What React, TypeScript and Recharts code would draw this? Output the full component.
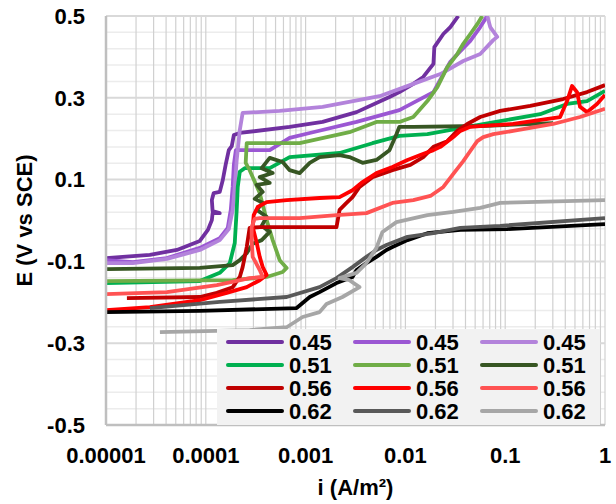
import { CartesianGrid, Label, Line, LineChart, XAxis, YAxis } from 'recharts';

// polarization curves, i in A/m2, E in V vs SCE
const p45a = [
  [1e-5, -0.092], [2.75e-5, -0.084], [5.13e-5, -0.072], [8.71e-5, -0.05], [1.05e-4, -0.023],
  [1.15e-4, 0.001], [1.17e-4, 0.018], [1.38e-4, 0.018], [1.17e-4, 0.023], [1.15e-4, 0.05],
  [1.2e-4, 0.067], [1.38e-4, 0.07], [1.48e-4, 0.099], [1.58e-4, 0.136], [1.7e-4, 0.172],
  [1.82e-4, 0.182], [1.91e-4, 0.209], [2.19e-4, 0.214], [6.92e-4, 0.229], [1.48e-3, 0.241],
  [3.24e-3, 0.265], [6.92e-3, 0.302], [8.71e-3, 0.314], [1.2e-2, 0.334], [1.51e-2, 0.351],
  [1.91e-2, 0.383], [1.95e-2, 0.424], [2.4e-2, 0.456], [2.82e-2, 0.473], [3.39e-2, 0.5],
];
const p45b = [
  [1e-5, -0.097], [1.86e-5, -0.102], [4.07e-5, -0.092], [8.71e-5, -0.067], [1.38e-4, -0.043],
  [1.66e-4, -0.018], [1.78e-4, 0.026], [1.86e-4, 0.082], [1.91e-4, 0.136], [2.0e-4, 0.172],
  [3.09e-4, 0.172], [4.37e-4, 0.172], [6.92e-4, 0.202], [1.1e-3, 0.214], [3.24e-3, 0.241],
  [8.71e-3, 0.27], [1.91e-2, 0.314], [2.4e-2, 0.358], [2.82e-2, 0.388], [3.55e-2, 0.414],
  [4.47e-2, 0.439], [5.62e-2, 0.473], [6.61e-2, 0.5],
];
const p45c = [
  [1e-5, -0.104], [1.86e-5, -0.104], [4.07e-5, -0.094], [8.71e-5, -0.072], [1.38e-4, -0.048],
  [1.7e-4, -0.021], [1.86e-4, 0.026], [1.95e-4, 0.082], [2.04e-4, 0.148], [2.19e-4, 0.221],
  [2.34e-4, 0.263], [5.5e-4, 0.268], [1.48e-3, 0.278], [5.5e-3, 0.304], [1.2e-2, 0.334],
  [2.24e-2, 0.358], [3.8e-2, 0.39], [5.62e-2, 0.407], [7.59e-2, 0.441], [8.32e-2, 0.449],
  [7.08e-2, 0.473], [6.61e-2, 0.5],
];
const p51a = [
  [1e-5, -0.153], [8.71e-5, -0.148], [1.38e-4, -0.128], [1.74e-4, -0.104], [1.95e-4, -0.055],
  [2.04e-4, 0.026], [2.09e-4, 0.082], [2.19e-4, 0.119], [2.45e-4, 0.128], [4.37e-4, 0.128],
  [6.92e-4, 0.155], [2.19e-3, 0.165], [4.68e-3, 0.189], [8.71e-3, 0.207], [1.66e-2, 0.211],
  [3.55e-2, 0.226], [8.91e-2, 0.243], [0.224, 0.26], [0.417, 0.285], [0.661, 0.292], [1, 0.317],
];
const p51b = [
  [1e-5, -0.148], [1.86e-4, -0.146], [4.07e-4, -0.138], [5.89e-4, -0.126], [6.46e-4, -0.116],
  [5.5e-4, -0.097], [4.68e-4, -0.048], [4.07e-4, 0.001], [3.47e-4, 0.067], [2.75e-4, 0.123],
  [2.51e-4, 0.141], [2.57e-4, 0.189], [8.71e-4, 0.189], [2.75e-3, 0.216], [5.13e-3, 0.241],
  [8.71e-3, 0.241], [1.2e-2, 0.253], [1.66e-2, 0.292], [2.09e-2, 0.326], [2.63e-2, 0.375],
  [3.31e-2, 0.407], [3.8e-2, 0.432], [4.47e-2, 0.456], [5.25e-2, 0.48], [5.89e-2, 0.5],
];
const p51c = [
  [1e-5, -0.119], [8.71e-5, -0.116], [1.86e-4, -0.109], [2.19e-4, -0.097], [2.57e-4, -0.08],
  [2.95e-4, -0.057], [3.63e-4, -0.048], [4.37e-4, -0.028], [3.63e-4, -0.013], [4.07e-4, 0.009],
  [3.24e-4, 0.026], [3.72e-4, 0.043], [3.09e-4, 0.053], [3.72e-4, 0.07], [3.24e-4, 0.087],
  [4.37e-4, 0.092], [3.47e-4, 0.106], [4.68e-4, 0.116], [3.63e-4, 0.128], [4.37e-4, 0.153],
  [5.89e-4, 0.143], [6.92e-4, 0.123], [8.71e-4, 0.116], [1.1e-3, 0.141], [1.38e-3, 0.155],
  [2.19e-3, 0.16], [2.75e-3, 0.155], [3.72e-3, 0.141], [5.13e-3, 0.148], [6.92e-3, 0.172],
  [8.13e-3, 0.211], [8.71e-3, 0.229], [1.2e-2, 0.229], [5.62e-2, 0.231], [0.302, 0.238],
];
const p56a = [
  [1.62e-5, -0.19], [8.71e-5, -0.187], [1.29e-4, -0.177], [1.86e-4, -0.163], [2.19e-4, -0.138],
  [2.34e-4, -0.114], [2.57e-4, -0.065], [2.75e-4, -0.018], [3.47e-4, -0.016], [8.71e-4, -0.016],
  [2.04e-3, -0.016], [2.19e-3, 0.026], [2.57e-3, 0.043], [2.95e-3, 0.057], [3.47e-3, 0.082],
  [4.68e-3, 0.106], [7.41e-3, 0.123], [1.12e-2, 0.136], [1.51e-2, 0.155], [1.91e-2, 0.18],
  [2.63e-2, 0.194], [3.31e-2, 0.219], [4.17e-2, 0.236], [5.62e-2, 0.253], [8.91e-2, 0.268],
  [0.178, 0.28], [0.38, 0.297], [0.661, 0.314], [1, 0.331],
];
const p56b = [
  [1e-5, -0.219], [2.75e-5, -0.212], [8.71e-5, -0.195], [1.62e-4, -0.177], [2.57e-4, -0.163],
  [3.47e-4, -0.146], [4.07e-4, -0.133], [3.72e-4, -0.114], [3.47e-4, -0.089], [3.24e-4, -0.055],
  [2.95e-4, -0.016], [3.02e-4, 0.013], [3.31e-4, 0.033], [4.07e-4, 0.045], [6.46e-4, 0.05],
  [1.38e-3, 0.055], [2.19e-3, 0.057], [2.95e-3, 0.074], [3.72e-3, 0.094], [5.13e-3, 0.116],
  [7.41e-3, 0.131], [1.05e-2, 0.148], [1.41e-2, 0.16], [1.91e-2, 0.172], [2.24e-2, 0.18],
  [3.02e-2, 0.204], [3.55e-2, 0.219], [4.47e-2, 0.229], [5.62e-2, 0.231], [0.12, 0.236],
  [0.355, 0.253], [0.417, 0.292], [0.468, 0.329], [0.525, 0.314], [0.562, 0.278],
  [0.661, 0.265], [0.832, 0.285], [1, 0.307],
];
const p56c = [
  [1e-5, -0.18], [4.07e-5, -0.175], [1.29e-4, -0.158], [2.75e-4, -0.141], [3.72e-4, -0.138],
  [3.47e-4, -0.121], [2.95e-4, -0.089], [2.88e-4, -0.048], [2.88e-4, -0.016], [3.09e-4, 0.004],
  [3.47e-4, 0.006], [8.71e-4, 0.006], [2.04e-3, 0.013], [4.07e-3, 0.018], [7.41e-3, 0.043],
  [1.2e-2, 0.05], [1.78e-2, 0.06], [2.4e-2, 0.082], [3.02e-2, 0.114], [3.8e-2, 0.145],
  [4.47e-2, 0.17], [5.25e-2, 0.194], [6.03e-2, 0.204], [7.59e-2, 0.211], [0.12, 0.219],
  [0.302, 0.236], [0.562, 0.253], [1, 0.273],
];
const p62a = [
  [1e-5, -0.224], [8.71e-5, -0.221], [8.13e-4, -0.214], [1.1e-3, -0.187], [1.38e-3, -0.175],
  [2.04e-3, -0.153], [2.95e-3, -0.138], [3.24e-3, -0.121], [4.07e-3, -0.104], [5.13e-3, -0.089],
  [6.46e-3, -0.072], [7.41e-3, -0.065], [1.05e-2, -0.048], [1.66e-2, -0.031], [3.55e-2, -0.023],
  [0.105, -0.021], [1, -0.009],
];
const p62b = [
  [2.75e-5, -0.214], [1.38e-4, -0.199], [6.46e-4, -0.187], [1.38e-3, -0.163], [2.04e-3, -0.141],
  [2.95e-3, -0.114], [4.07e-3, -0.089], [5.13e-3, -0.072], [6.46e-3, -0.06], [1.05e-2, -0.04],
  [1.91e-2, -0.031], [3.55e-2, -0.018], [8.91e-2, -0.013], [1, 0.006],
];
const p62c = [
  [3.47e-5, -0.273], [2.75e-4, -0.268], [6.46e-4, -0.261], [9.33e-4, -0.236], [1.38e-3, -0.224],
  [1.62e-3, -0.204], [2.34e-3, -0.187], [3.47e-3, -0.163], [2.75e-3, -0.146], [2.19e-3, -0.141],
  [3.24e-3, -0.128], [4.07e-3, -0.104], [5.13e-3, -0.067], [5.89e-3, -0.028], [8.13e-3, -0.004],
  [1.66e-2, 0.013], [3.02e-2, 0.021], [5.62e-2, 0.031], [8.91e-2, 0.043], [1, 0.05],
];

const names = ['0.45', '0.45', '0.45', '0.51', '0.51', '0.51', '0.56', '0.56', '0.56', '0.62', '0.62', '0.62'];
const colors = [
  '#7030A0', '#9B57D3', '#B383DB',
  '#00B050', '#70AD47', '#375623',
  '#C00000', '#FF0000', '#FF5353',
  '#000000', '#595959', '#A6A6A6',
];
const curves = [p45a, p45b, p45c, p51a, p51b, p51c, p56a, p56b, p56c, p62a, p62b, p62c];

const xTicks = [1e-5, 1e-4, 1e-3, 1e-2, 1e-1, 1];
const xTickLabels = ['0.00001', '0.0001', '0.001', '0.01', '0.1', '1'];
const yTicks = [-0.5, -0.3, -0.1, 0.1, 0.3, 0.5];
const yMinor = [-0.46, -0.42, -0.38, -0.34, -0.26, -0.22, -0.18, -0.14, -0.06, -0.02, 0.02, 0.06, 0.14, 0.18, 0.22, 0.26, 0.34, 0.38, 0.42, 0.46];
const xGridSteps = [1, 2, 3, 4, 5, 6, 7, 8, 9];

const series = curves.map((c, k) => ({
  name: names[k],
  color: colors[k],
  data: c.map(([i, e]) => ({ i, e })),
}));
const xGrid = xTicks.slice(0, -1).flatMap((d) => xGridSteps.map((m) => d * m)).concat([1]);

const font = '"Liberation Sans", Arial, sans-serif';
const tickStyle = { fill: '#000', fontSize: 22, fontWeight: 700, fontFamily: font };

export default function App() {
  return (
    <div style={{ position: 'absolute', left: 0, top: 0, width: 616, height: 504, background: '#fff' }}>
      <LineChart width={616} height={504} margin={{ top: 16, right: 11, bottom: 0, left: 0 }}>
        <CartesianGrid vertical={false} horizontalValues={yMinor} stroke="#ececec" strokeWidth={1.5} />
        <CartesianGrid horizontal={false} verticalValues={xGrid} stroke="#d0d0d0" strokeWidth={1.2} />
        <CartesianGrid vertical={false} horizontalValues={yTicks} stroke="#d9d9d9" strokeWidth={2} />
        <XAxis
          dataKey="i"
          type="number"
          scale="log"
          domain={[1e-5, 1]}
          allowDataOverflow
          ticks={xTicks}
          interval={0}
          tickFormatter={(v: number) => xTickLabels[xTicks.indexOf(v)] ?? String(v)}
          tick={tickStyle}
          tickLine={false}
          tickSize={0}
          tickMargin={22}
          axisLine={{ stroke: '#bfbfbf', strokeWidth: 2.5 }}
          height={79}
        >
          <Label
            content={({ viewBox }: any) => (
              <text x={viewBox.x + viewBox.width / 2} y={495} textAnchor="middle" fontSize={22} fontWeight={700} fontFamily={font} fill="#000">
                i (A/m²)
              </text>
            )}
          />
        </XAxis>
        <YAxis
          type="number"
          domain={[-0.5, 0.5]}
          allowDataOverflow
          ticks={yTicks}
          interval={0}
          tick={tickStyle}
          tickLine={false}
          tickSize={0}
          tickMargin={21}
          axisLine={{ stroke: '#bfbfbf', strokeWidth: 2.5 }}
          width={106}
        >
          <Label
            content={({ viewBox }: any) => {
              const cx = 32;
              const cy = viewBox.y + viewBox.height / 2;
              return (
                <text x={cx} y={cy} transform={`rotate(-90 ${cx} ${cy})`} textAnchor="middle" fontSize={22} fontWeight={700} fontFamily={font} fill="#000">
                  E (V vs SCE)
                </text>
              );
            }}
          />
        </YAxis>
        {series.map((s, k) => (
          <Line
            key={k}
            name={s.name}
            data={s.data}
            dataKey="e"
            type="linear"
            stroke={s.color}
            strokeWidth={3.8}
            strokeLinejoin="round"
            dot={false}
            activeDot={false}
            isAnimationActive={false}
          />
        ))}
      </LineChart>
      <div
        style={{
          position: 'absolute',
          left: 217,
          top: 329,
          width: 383,
          height: 96,
          background: '#f2f2f2',
          fontFamily: font,
          fontWeight: 700,
          fontSize: 22,
        }}
      >
        {series.map((s, k) => (
          <div
            key={k}
            style={{
              position: 'absolute',
              left: 9 + (k % 3) * 127,
              top: 1.5 + Math.floor(k / 3) * 23,
              height: 23,
              display: 'flex',
              alignItems: 'center',
            }}
          >
            <span style={{ display: 'inline-block', width: 58, height: 4, borderRadius: 2, background: s.color, marginRight: 5 }} />
            <span style={{ lineHeight: '23px' }}>{s.name}</span>
          </div>
        ))}
      </div>
    </div>
  );
}
